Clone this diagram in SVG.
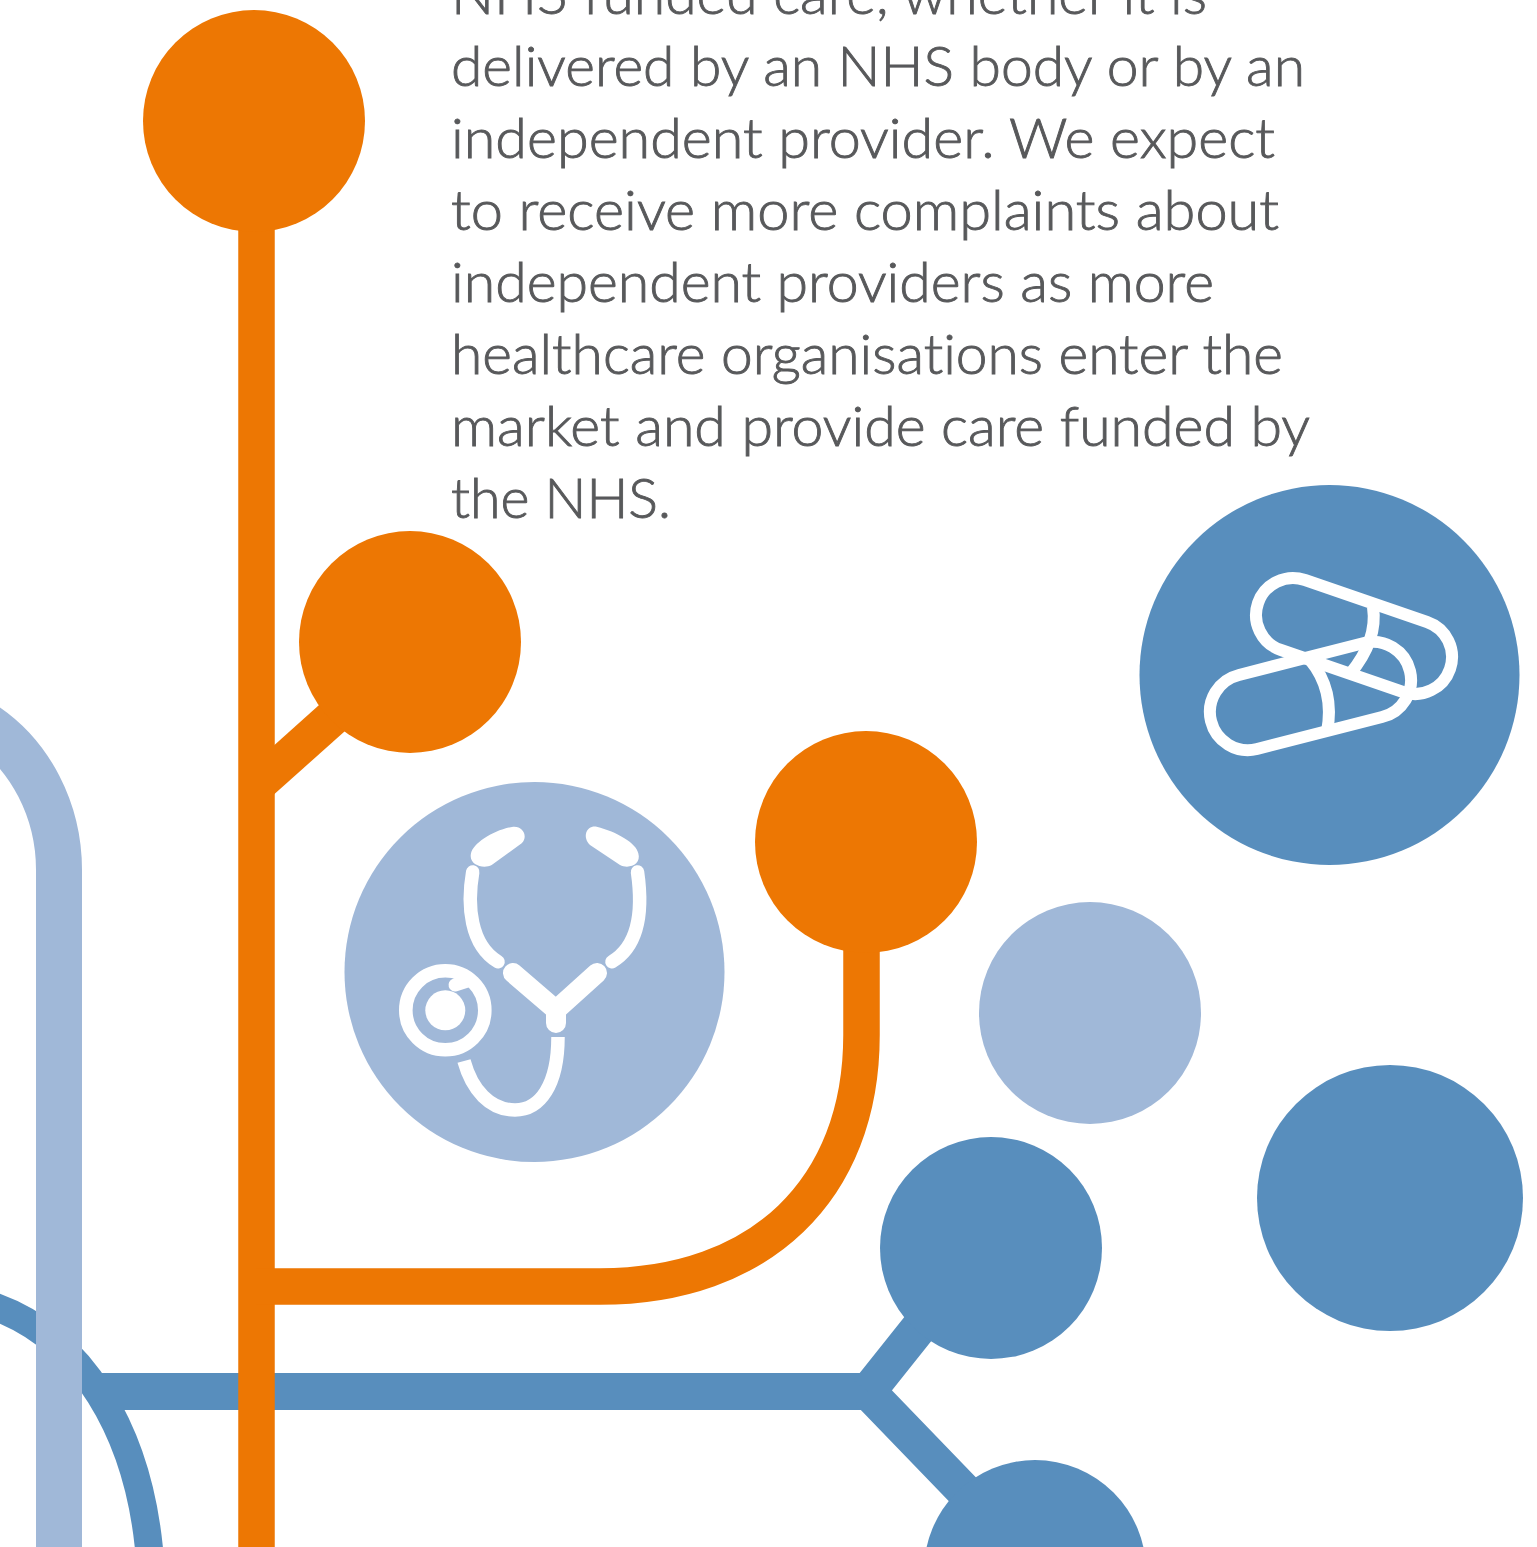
<svg xmlns="http://www.w3.org/2000/svg" width="1537" height="1547" viewBox="0 0 1537 1547">
<style>
.o{fill:#ed7703}.b{fill:#588ebd}.l{fill:#a0b8d8}
.so,.sb,.sl{fill:none}
.so{stroke:#ed7703;stroke-width:36.5}.sb{stroke:#588ebd;stroke-width:37}.sl{stroke:#a0b8d8;stroke-width:46}
.w{fill:none;stroke:#fff;stroke-linecap:round;stroke-linejoin:round}
.c{stroke-linecap:butt}
text{font-family:"Lato","Open Sans",sans-serif;font-weight:300;font-size:55px;fill:#58595b;stroke:#58595b;stroke-width:.9;font-variant-ligatures:none}
</style>
<rect width="1537" height="1547" fill="#fff"/>
<g id="connectors">
<path class="sb" style="stroke-width:28" d="M-10,1305C80,1335 140,1430 150,1560"/>
<path class="sb" d="M100,1391.500H868"/>
<path class="sb" style="stroke-width:36" d="M868,1391.500L925,1320M868,1391.500L965,1492"/>
<path class="sl" d="M-15,725C30,755 59,810 59,870V1560"/>
<path class="so" d="M256.500,120V1560"/>
<polygon class="o" points="270,749 328,697 354,723 270,798"/>
<path class="so" d="M256,1286.500H600C760,1286.500 861.500,1190 861.500,1035V842"/>
</g>
<g id="node-orange-1"><circle class="o" cx="254" cy="121" r="111"/></g>
<g id="node-orange-2"><circle class="o" cx="410" cy="642" r="111"/></g>
<g id="node-orange-3"><circle class="o" cx="866" cy="842" r="111"/></g>
<g id="node-light"><circle class="l" cx="1090" cy="1013" r="111"/></g>
<g id="node-blue-1"><circle class="b" cx="991" cy="1248" r="111"/></g>
<g id="node-blue-2"><circle class="b" cx="1035" cy="1571" r="111"/></g>
<g id="node-blue-3"><circle class="b" cx="1390" cy="1198" r="133"/></g>
<g id="node-stethoscope">
<circle class="l" cx="534.500" cy="972" r="190"/>
<path fill="#fff" d="M471,853.300C473.300,843.300 493.300,830 513.300,826.700C523.300,826 528.300,836.700 521.700,843.300L491.700,865C483.300,869.300 468.300,865 471,853.300Z"/>
<path fill="#fff" d="M638.300,853.300C636.700,843.300 616.700,831.700 596.700,826.700C586.700,825 581.700,836.700 590,845L620,865C628.300,869.300 641.700,865 638.300,853.300Z"/>
<g class="w">
<path stroke-width="13.500" d="M472.700,872C467,905 470,945 498,961.700"/>
<path stroke-width="13.500" d="M637.500,872C643,910 640,945 612,961.700"/>
<path stroke-width="20" d="M513,973L556,1010L597,973M556,1010V1023"/>
<path class="c" stroke-width="13.500" d="M558,1037C558,1085 540,1110 515,1110C490,1110 472,1090 464,1061"/>
<circle stroke-width="13.600" cx="445.300" cy="1010.300" r="39.500"/>
<path stroke-width="13" d="M455,985L469,980.500"/>
</g>
<circle cx="445.300" cy="1010.300" r="20" fill="#fff"/>
</g>
<g id="node-pills">
<circle class="b" cx="1329.500" cy="675" r="190"/>
<g class="w" stroke-width="12">
<path d="M1305,580L1427,622A37,37 0 0 1 1403,692L1281,650A37,37 0 0 1 1305,580Z"/>
<path class="c" d="M1373,607Q1378,640 1350,674"/>
<path d="M1239,675L1364,643A38,38 0 0 1 1382,717L1257,749A38,38 0 0 1 1239,675Z"/>
<path class="c" d="M1310,660Q1335,690 1327,732"/>
</g>
</g>
<g id="body-text">
<text x="451" y="14" textLength="756" lengthAdjust="spacingAndGlyphs">NHS funded care, whether it is</text>
<text x="451" y="86" textLength="854" lengthAdjust="spacingAndGlyphs">delivered by an NHS body or by an</text>
<text x="451" y="158" textLength="824" lengthAdjust="spacingAndGlyphs">independent provider. We expect</text>
<text x="451" y="230" textLength="828" lengthAdjust="spacingAndGlyphs">to receive more complaints about</text>
<text x="451" y="302" textLength="763" lengthAdjust="spacingAndGlyphs">independent providers as more</text>
<text x="451" y="374" textLength="832" lengthAdjust="spacingAndGlyphs">healthcare organisations enter the</text>
<text x="451" y="446" textLength="859" lengthAdjust="spacingAndGlyphs">market and provide care funded by</text>
<text x="451" y="518" textLength="220" lengthAdjust="spacingAndGlyphs">the NHS.</text>
</g>
</svg>
